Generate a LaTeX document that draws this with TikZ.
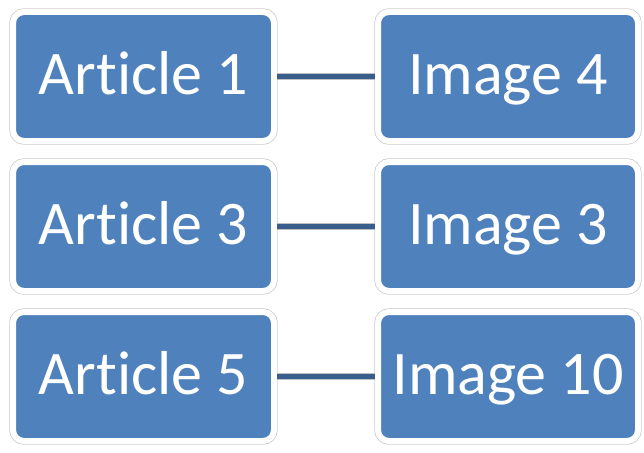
\documentclass[tikz,border=0pt]{standalone}
\usepackage{fontspec}
\setmainfont{Carlito}[Ligatures=NoCommon]
\usepackage{tikz}
\definecolor{officeBlue}{RGB}{79,129,189}
\definecolor{linkBlue}{RGB}{58,94,140}
\definecolor{rimGrey}{RGB}{200,200,200}

\begin{document}
\begin{tikzpicture}[x=1pt, y=-1pt, text=white]
		\useasboundingbox (0,0) rectangle (644,452);

		% Articles
		\begin{scope}[every node/.style={rectangle, rounded corners=11pt, fill=officeBlue,
				draw=white, line width=6pt, preaction={draw=rimGrey, line width=7.4pt},
				minimum width=261pt, minimum height=129pt, inner sep=0pt,
				text height=38pt, text depth=2pt,
				font=\fontsize{62}{70}\selectfont}]
			\node (a1) at (143.5,76.5) {Article 1};
			\node (a3) at (143.5,226.5) {Article 3};
			\node (a5) at (143.5,376.5) {Article 5};
		\end{scope}

		% Images
		\begin{scope}[every node/.style={rectangle, rounded corners=11pt, fill=officeBlue,
				draw=white, line width=6pt, preaction={draw=rimGrey, line width=7.4pt},
				minimum width=260pt, minimum height=129pt, inner sep=0pt,
				text height=38pt, text depth=2pt,
				font=\fontsize{62}{70}\selectfont}]
			\node (i4) at (508,76.5) {Image 4};
			\node (i3) at (508,226.5) {Image 3};
			\node (i10) at (508,376.5) {Image 10};
		\end{scope}

		% Links
		\begin{scope}[every edge/.style={draw=linkBlue, line width=5pt,
				preaction={draw=black!25, line width=7pt}}]
			\path (a1) edge (i4);
			\path (a3) edge (i3);
			\path (a5) edge (i10);
		\end{scope}

	\end{tikzpicture}
\end{document}
